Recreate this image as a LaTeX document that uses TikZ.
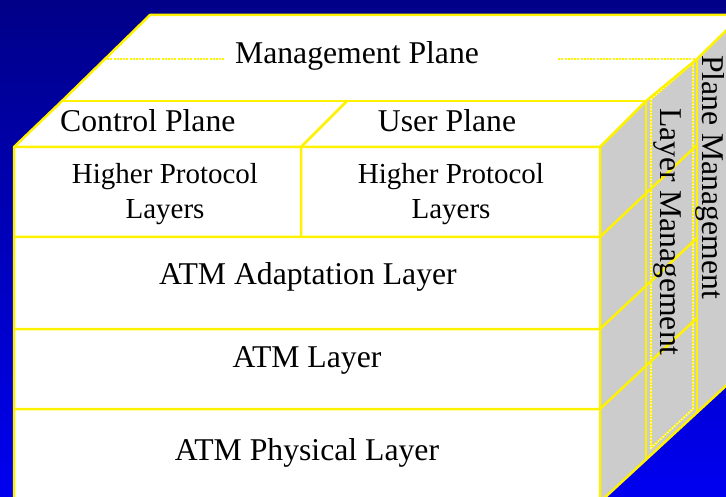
\documentclass[tikz,border=0pt]{standalone}
\usepackage{fontspec}
\setmainfont{Liberation Serif}
\definecolor{navytop}{RGB}{0,0,136}
\definecolor{bluebottom}{RGB}{0,0,240}
\definecolor{sidegray}{RGB}{204,204,204}
\tikzset{
	yline/.style={draw=yellow, line width=2.5pt, line join=round},
	dotline/.style={draw=yellow, line width=2pt, postaction={draw=white, line width=1.2pt, dash pattern=on 1.2pt off 2pt}},
	bigtext/.style={inner sep=0pt, font=\fontsize{31.7}{36}\selectfont},
	smalltext/.style={inner sep=0pt, align=center, font=\fontsize{29}{35}\selectfont}
}

\begin{document}
\begin{tikzpicture}[x=1pt, y=-1pt]
			\useasboundingbox (0,0) rectangle (726,497);
			\clip (0,0) rectangle (726,497);
			\shade[top color=navytop, bottom color=bluebottom] (0,0) rectangle (726,497);

			\fill[white] (106,59) -- (150,15) -- (742,15) -- (697,59) -- cycle;
			\fill[sidegray] (697,59) -- (742,15) -- (742,371) -- (697,412) -- cycle;
			\fill[white] (62,101) -- (106,59) -- (697,59) -- (646,101) -- cycle;
			\fill[sidegray] (646,101) -- (697,59) -- (697,412) -- (646,459) -- cycle;
			\fill[white] (14,147) -- (62,101) -- (646,101) -- (600,147) -- cycle;
			\fill[sidegray] (600,147) -- (646,101) -- (646,459) -- (600,502) -- cycle;
			\fill[white] (14,147) rectangle (600,510);

			\draw[dotline] (651,99) -- (693,63) -- (693,409) -- (651,448) -- cycle;
			\draw[dotline] (106,59) -- (225,59);
			\draw[dotline] (557,59) -- (697,59);

			\draw[yline] (14,510) -- (14,147) -- (62,101) -- (150,15) -- (742,15);
			\draw[yline] (14,147) -- (600,147) -- (646,101) -- (697,59) -- (742,15);
			\draw[yline] (62,101) -- (646,101);
			\draw[yline] (600,147) -- (600,502) -- (742,371);
			\draw[yline] (646,101) -- (646,459);
			\draw[yline] (697,59) -- (697,412);
			\draw[yline] (301,237) -- (301,147) -- (347,101);
			\draw[yline] (14,237) -- (600,237) -- (697,145);
			\draw[yline] (14,329) -- (600,329) -- (697,238);
			\draw[yline] (14,409) -- (600,409) -- (697,318);

			\node[bigtext, anchor=base] (mgmt) at (357,64) {Management Plane};
			\node[bigtext, anchor=base west] (control) at (60,132) {Control Plane};
			\node[bigtext, anchor=base] (user) at (447,132) {User Plane};
			\node[smalltext] (higherA) at (165,194) {Higher Protocol\\Layers};
			\node[smalltext] (higherB) at (451,194) {Higher Protocol\\Layers};
			\node[bigtext, anchor=base] (aal) at (308,285) {ATM Adaptation Layer};
			\node[bigtext, anchor=base] (atm) at (307,367) {ATM Layer};
			\node[bigtext, anchor=base] (phy) at (307,460) {ATM Physical Layer};
			\node[bigtext, anchor=base, rotate=-90] (layermgmt) at (660,232) {Layer Management};
			\node[bigtext, anchor=base, rotate=-90] (planemgmt) at (702,177) {Plane Management};
		\end{tikzpicture}
\end{document}
